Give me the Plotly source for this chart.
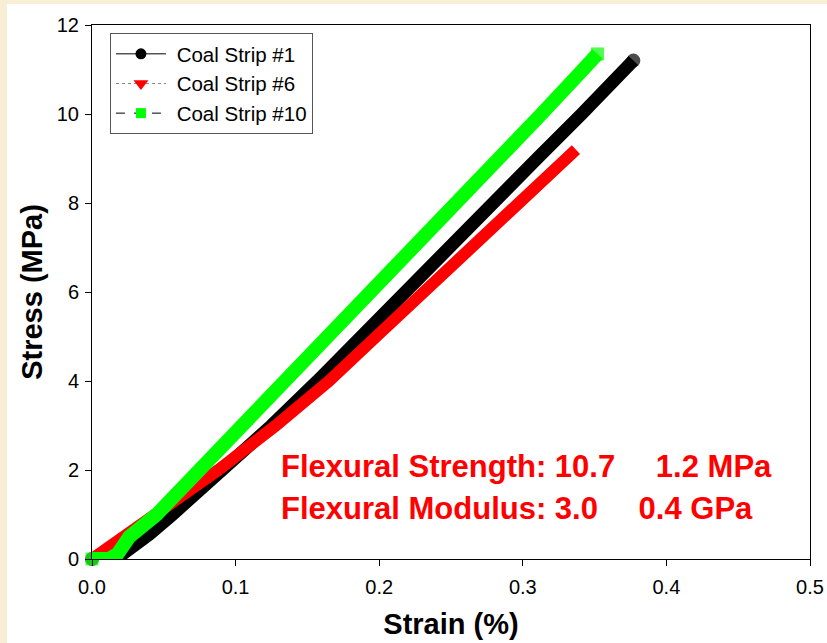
import plotly.graph_objects as go

# Stress-strain readings for three coal strips (strain in %, stress in MPa)
strain_1 = [0.000, 0.012, 0.020, 0.030, 0.040, 0.056, 0.075, 0.093, 0.125, 0.157,
            0.187, 0.217, 0.248, 0.279, 0.310, 0.341, 0.371, 0.377]
stress_1 = [0.00, 0.00, 0.08, 0.30, 0.56, 1.00, 1.55, 2.00, 3.00, 4.00,
            5.00, 6.00, 7.00, 8.00, 9.00, 10.00, 11.00, 11.20]

strain_6 = [0.000, 0.010, 0.022, 0.045, 0.066, 0.088, 0.128, 0.165, 0.198, 0.231,
            0.264, 0.297, 0.331, 0.337]
stress_6 = [0.00, 0.22, 0.49, 1.00, 1.50, 2.00, 3.00, 4.00, 5.00, 6.00,
            7.00, 8.00, 9.00, 9.20]

strain_10 = [0.000, 0.012, 0.018, 0.026, 0.045, 0.060, 0.076, 0.106, 0.136, 0.165,
             0.193, 0.224, 0.256, 0.285, 0.313, 0.342, 0.352]
stress_10 = [0.00, 0.00, 0.12, 0.50, 1.00, 1.50, 2.00, 3.00, 4.00, 5.00,
             6.00, 7.00, 8.00, 9.00, 10.00, 11.00, 11.35]

series_names = ["\u00a0Coal Strip #1", "\u00a0Coal Strip #6", "\u00a0Coal Strip #10"]
x_ticks = [0.0, 0.1, 0.2, 0.3, 0.4, 0.5]
y_ticks = [0, 2, 4, 6, 8, 10, 12]

GAP = "\u00a0" * 4 + "\u2009"
annotation_lines = [
    "Flexural Strength: 10.7" + GAP + "1.2 MPa",
    "Flexural Modulus: 3.0" + GAP + "0.4 GPa",
]

FONT = "Liberation Sans, Arial, sans-serif"
CREAM = "#F8EED6"


def end_sizes(n, size):
    """Marker only on the two ends of a band."""
    return [size] + [0] * (n - 2) + [size]


fig = go.Figure()

# Thick bands for each strip
fig.add_trace(go.Scatter(
    x=strain_1, y=stress_1, mode="lines+markers", showlegend=False,
    line=dict(color="black", width=13),
    marker=dict(symbol="circle", size=end_sizes(len(strain_1), 14), color="black",
                line=dict(width=0)),
    cliponaxis=False,
))
fig.add_trace(go.Scatter(
    x=strain_6, y=stress_6, mode="lines", showlegend=False,
    line=dict(color="#FF0000", width=12),
    cliponaxis=False,
))
fig.add_trace(go.Scatter(
    x=strain_10, y=stress_10, mode="lines+markers", showlegend=False,
    line=dict(color="#00FF00", width=14),
    marker=dict(symbol="square", size=end_sizes(len(strain_10), 13), color="#00FF00",
                line=dict(width=0)),
    cliponaxis=False,
))

# Legend entries
fig.add_trace(go.Scatter(
    x=[None], y=[None], mode="lines+markers", name=series_names[0],
    line=dict(color="black", width=1),
    marker=dict(symbol="circle", size=11, color="black"),
))
fig.add_trace(go.Scatter(
    x=[None], y=[None], mode="lines+markers", name=series_names[1],
    line=dict(color="#888888", width=1, dash="dot"),
    marker=dict(symbol="triangle-down", size=13, color="#FF0000"),
))
fig.add_trace(go.Scatter(
    x=[None], y=[None], mode="lines+markers", name=series_names[2],
    line=dict(color="black", width=1, dash="dash"),
    marker=dict(symbol="square", size=10, color="#00FF00"),
))

annotations = []
for text, yv in zip(annotation_lines, [2.09, 1.146]):
    annotations.append(dict(
        x=0.1305, y=yv, xref="x", yref="y", text=text, showarrow=False,
        xanchor="left", yanchor="middle",
        font=dict(family=FONT, size=31, color="#FF0000", weight="bold"),
    ))

axis_common = dict(
    showline=True, linecolor="black", linewidth=1, mirror=True,
    ticks="outside", ticklen=6, tickcolor="black", tickwidth=1,
    showgrid=False, zeroline=False, automargin=False,
    tickfont=dict(family=FONT, size=20, color="black"),
)

fig.update_layout(
    width=827, height=643, autosize=False,
    margin=dict(l=92, r=17, t=25, b=84),
    paper_bgcolor=CREAM, plot_bgcolor="white",
    font=dict(family=FONT, color="black"),
    xaxis=dict(
        range=[0, 0.5], tickvals=x_ticks, tickformat=".1f",
        ticklabelstandoff=4, ticklabeloverflow="allow",
        title=dict(text="Strain (%)", standoff=16,
                   font=dict(family=FONT, size=29, color="black", weight="bold")),
        **axis_common,
    ),
    yaxis=dict(
        range=[0, 12], tickvals=y_ticks,
        ticklabelstandoff=2,
        title=dict(text="Stress (MPa)", standoff=5,
                   font=dict(family=FONT, size=29, color="black", weight="bold")),
        **axis_common,
    ),
    legend=dict(
        x=0.025, y=0.985, xanchor="left", yanchor="top",
        bgcolor="white", bordercolor="#555555", borderwidth=1,
        font=dict(family=FONT, size=20.5, color="black"),
        itemwidth=50,
    ),
    annotations=annotations,
    shapes=[dict(
        type="rect", xref="paper", yref="paper", layer="below",
        x0=-0.1184, x1=1.05, y0=-0.2, y1=1.0393,
        fillcolor="white", line=dict(width=0),
    )],
)

fig.write_html("out.html")
